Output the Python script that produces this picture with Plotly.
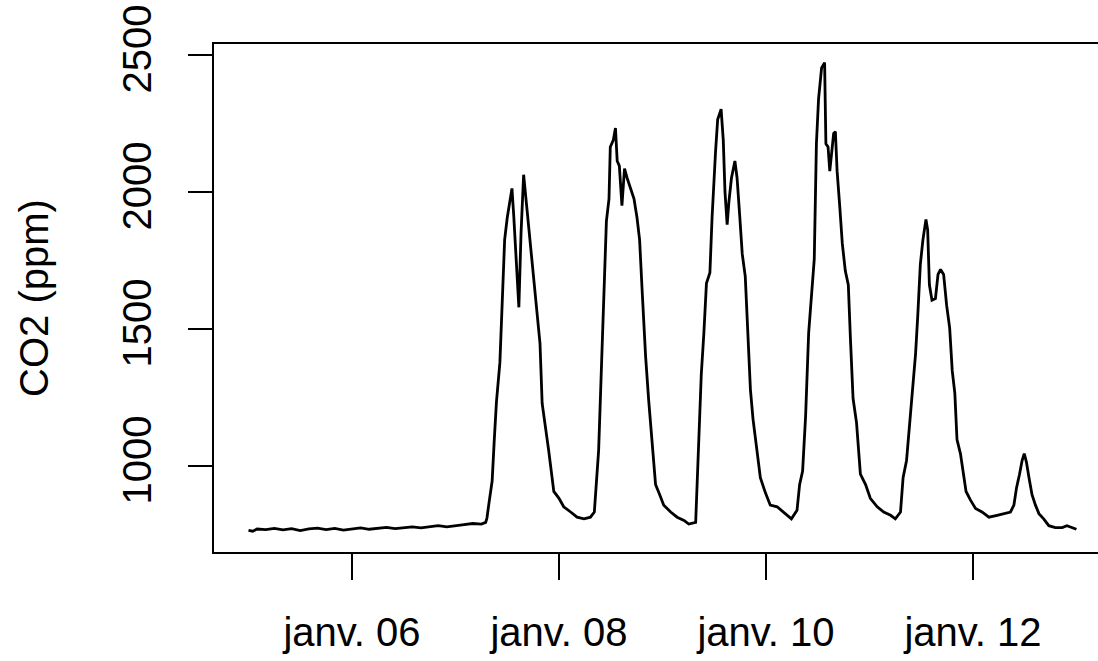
import pandas as pd
import plotly.graph_objects as go

# Recording start and elapsed hours of each CO2 reading
start_time = "2020-01-05 00:00"
elapsed_hours = [
    0, 1, 2, 4, 6, 8, 10, 12, 14, 16, 18, 20, 22, 24, 26, 28, 30, 32, 34, 36,
    38, 40, 42, 44, 46, 48, 50, 52, 54, 55,
    55.3, 55.7, 56.5, 57.0, 57.5, 58.3, 58.8, 59.4, 60.0, 60.5, 61.1, 61.5,
    62.1, 62.7, 63.2, 63.8, 64.5, 65.2, 65.9, 66.6, 67.0, 67.6, 68.1, 68.9,
    69.6, 70.3, 70.8, 72.0, 73.1, 74.7, 76.2, 77.8, 79.3, 80.2,
    80.7, 81.2, 81.9, 82.4, 83.0, 83.6, 83.9, 84.6, 85.1, 85.5, 86.0, 86.6,
    87.2, 87.8, 88.6, 89.4, 90.1, 90.7, 91.3, 92.1, 92.8, 93.6, 94.4, 95.2,
    96.3, 97.9, 99.4, 101.0, 102.1, 103.7,
    104.0, 104.4, 105.0, 105.6, 106.2, 107.0, 107.5, 108.3, 108.8, 109.6,
    110.1, 110.5, 111.0, 111.4, 112.0, 112.8, 113.3, 113.9, 114.5, 115.2,
    115.9, 116.4, 117.0, 117.8, 118.7, 119.9, 121.0, 122.6, 124.1, 125.9,
    127.2, 127.8, 128.5, 129.2, 129.9, 130.7, 131.2, 131.7, 132.2, 132.9,
    133.6, 133.9, 134.4, 134.8, 135.3, 135.7, 136.1, 136.5, 137.1, 137.7,
    138.4, 139.1, 139.6, 140.2, 141.0, 141.9, 143.1, 144.2, 145.8, 147.3,
    148.9, 150.0, 151.2, 151.8, 152.6, 153.1, 153.9, 154.7, 155.2, 155.8,
    156.4, 157.1, 157.5, 157.9, 158.5, 159.3, 159.9, 160.5, 161.2, 161.9,
    162.6, 163.2, 163.8, 164.3, 165.1, 165.7, 166.4, 167.4, 168.6, 170.1,
    171.7, 173.6, 175.2, 176.7, 177.5, 178.1, 178.8, 179.4, 179.9, 180.4,
    181.0, 181.7, 182.5, 183.3, 184.4, 185.6, 187.1, 188.7, 189.8, 191.0,
    192.0,
]
co2_ppm = [
    765, 762, 770, 768, 772, 767, 771, 764, 770, 773, 768, 772, 766, 771, 774,
    769, 773, 776, 771, 775, 778, 774, 779, 782, 778, 783, 786, 790, 788, 794,
    810, 857, 945, 1096, 1234, 1378, 1586, 1825, 1906, 1963, 2013, 1916,
    1736, 1579, 1849, 2063, 1950, 1837, 1736, 1611, 1548, 1447, 1228, 1146,
    1058, 970, 907, 882, 851, 832, 813, 807, 813, 832,
    945, 1058, 1385, 1623, 1894, 1975, 2164, 2189, 2233, 2113, 2095, 1950,
    2085, 2051, 2013, 1975, 1906, 1825, 1636, 1397, 1240, 1089, 932, 901,
    857, 832, 813, 801, 788, 794,
    920, 1070, 1334, 1485, 1667, 1705, 1906, 2145, 2264, 2302,
    2189, 2000, 1881, 1963, 2051, 2113, 2051, 1916, 1774, 1692,
    1479, 1278, 1171, 1070, 957, 901, 857, 851, 832, 807,
    838, 932, 981, 1184, 1485, 1674, 1755, 2176, 2340, 2453,
    2472, 2176, 2164, 2076, 2164, 2214, 2220, 2076, 1950, 1812,
    1712, 1661, 1460, 1246, 1158, 970, 932, 882, 851, 832,
    820, 807, 832, 957, 1020, 1108, 1259, 1410, 1548, 1736,
    1825, 1900, 1862, 1661, 1605, 1611, 1699, 1717, 1699, 1586,
    1504, 1347, 1265, 1096, 1045, 981, 907, 876, 845, 832,
    813, 820, 826, 832, 857, 920, 970, 1020, 1045, 1014,
    957, 895, 857, 826, 807, 782, 775, 775, 782, 775,
    769,
]

# Axis ticks
x_tick_dates = ["2020-01-06", "2020-01-08", "2020-01-10", "2020-01-12"]
x_tick_labels = ["janv. 06", "janv. 08", "janv. 10", "janv. 12"]
y_tick_values = [1000, 1500, 2000, 2500]
x_range = ["2020-01-04 16:00", "2020-01-13 05:00"]
y_range = [686, 2540]

times = pd.Timestamp(start_time) + pd.to_timedelta(elapsed_hours, unit="h")

fig = go.Figure()
fig.add_trace(go.Scatter(
    x=times, y=co2_ppm, mode="lines",
    line=dict(color="black", width=2.8),
    showlegend=False,
))

font_family = "Liberation Sans, Arial, sans-serif"

fig.update_layout(
    width=1098, height=661,
    margin=dict(l=214, r=0, t=44, b=109, pad=0, autoexpand=False),
    plot_bgcolor="white", paper_bgcolor="white",
    font=dict(family=font_family, size=40, color="black"),
    showlegend=False,
)
fig.update_xaxes(
    type="date", range=x_range, automargin=False,
    tickmode="array", tickvals=x_tick_dates, ticktext=x_tick_labels,
    ticks="outside", ticklen=26, tickwidth=2, tickcolor="black",
    showline=True, linewidth=2, linecolor="black", mirror=True,
    showgrid=False, zeroline=False,
    tickfont=dict(family=font_family, size=40, color="black"),
    ticklabelstandoff=18,
)
fig.update_yaxes(
    range=y_range, automargin=False,
    tickmode="array", tickvals=y_tick_values,
    ticks="outside", ticklen=24, tickwidth=2, tickcolor="black",
    tickangle=-90,
    showline=True, linewidth=2, linecolor="black", mirror=False,
    showgrid=False, zeroline=False,
    tickfont=dict(family=font_family, size=40, color="black"),
    ticklabelstandoff=21,
    title=dict(text="CO2 (ppm)", font=dict(family=font_family, size=40, color="black"),
               standoff=54),
)

fig.write_html(
    "out.html",
    config={"displayModeBar": False, "staticPlot": True},
    post_script="document.body.style.margin='0';document.body.style.overflow='hidden';",
)
